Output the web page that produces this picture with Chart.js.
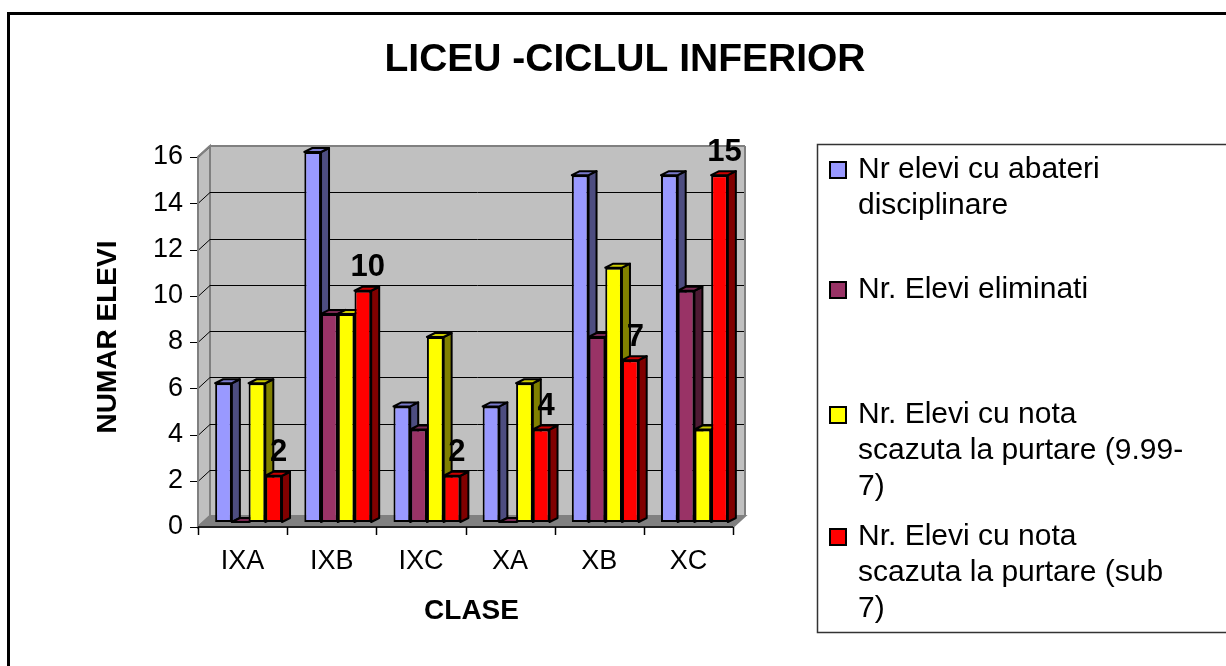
<!DOCTYPE html>
<html>
<head>
<meta charset="utf-8">
<title>Liceu - ciclul inferior</title>
<script src="https://cdn.jsdelivr.net/npm/chart.js@4.4.1/dist/chart.umd.min.js"></script>
<style>
    html, body { margin: 0; padding: 0; background: #fff; }
    canvas { display: block; }
</style>
</head>
<body>
<canvas id="grafic" width="1226" height="666"></canvas>
<script>
const clase = ['IXA', 'IXB', 'IXC', 'XA', 'XB', 'XC'];
const abateri = [6, 16, 5, 5, 15, 15];
const eliminati = [0, 9, 4, 0, 8, 10];
const notaScazuta = [6, 9, 8, 6, 11, 4];
const notaSub7 = [2, 10, 2, 4, 7, 15];
const valoriAxaY = [0, 2, 4, 6, 8, 10, 12, 14, 16];

const serii = [
    'Nr elevi cu abateri disciplinare',
    'Nr. Elevi eliminati',
    'Nr. Elevi cu nota scazuta la purtare (9.99-7)',
    'Nr. Elevi cu nota scazuta la purtare (sub 7)'
];
// textul legendei, pe randuri
const randuriLegenda = [
    ['Nr elevi cu abateri', 'disciplinare'],
    ['Nr. Elevi eliminati'],
    ['Nr. Elevi cu nota', 'scazuta la purtare (9.99-', '7)'],
    ['Nr. Elevi cu nota', 'scazuta la purtare (sub', '7)']
];

const culori = ['#9999ff', '#993366', '#ffff00', '#ff0000'];
const culoriLaterale = ['#4d4d80', '#4d1a33', '#808000', '#800000'];
const culoriSus = ['#7a7acc', '#7a2952', '#cccc00', '#cc0000'];

const FONT = "'Liberation Sans', Arial, sans-serif";
const adancime = { dx: 8, dy: -4 };   // adancimea barelor 3D
const fata = { dx: -6, dy: 5 };        // planul din fata (axe)
const spate = { dx: 6, dy: -6 };       // peretele din spate

function poligon(ctx, pts, fill) {
    ctx.beginPath();
    ctx.moveTo(pts[0][0], pts[0][1]);
    for (let i = 1; i < pts.length; i++) ctx.lineTo(pts[i][0], pts[i][1]);
    ctx.closePath();
    if (fill) {
        ctx.fillStyle = fill;
        ctx.fill();
    }
    ctx.stroke();
}

function linie(ctx, x1, y1, x2, y2) {
    ctx.beginPath();
    ctx.moveTo(x1, y1);
    ctx.lineTo(x2, y2);
    ctx.stroke();
}

const decor3D = {
    id: 'decor3D',
    beforeDraw(chart) {
        const { ctx, chartArea: ca, scales: { y } } = chart;
        const L = ca.left, R = ca.right;
        const B = y.getPixelForValue(0), T = y.getPixelForValue(16);
        ctx.save();
        ctx.fillStyle = '#fff';
        ctx.fillRect(0, 0, chart.width, chart.height);

        // chenarul exterior
        ctx.strokeStyle = '#000';
        ctx.lineWidth = 3;
        ctx.strokeRect(8.5, 13.5, chart.width + 20, chart.height + 20);

        // peretele din spate, peretele lateral si podeaua
        ctx.lineWidth = 2;
        ctx.strokeStyle = '#808080';
        ctx.fillStyle = '#c0c0c0';
        ctx.fillRect(L + spate.dx, T + spate.dy, R - L, B - T);
        poligon(ctx, [[L + fata.dx, T + fata.dy], [L + spate.dx, T + spate.dy],
                      [L + spate.dx, B + spate.dy], [L + fata.dx, B + fata.dy]], '#c0c0c0');
        poligon(ctx, [[L + fata.dx, B + fata.dy], [R + fata.dx, B + fata.dy],
                      [R + spate.dx, B + spate.dy], [L + spate.dx, B + spate.dy]], '#808080');

        // liniile de grila
        ctx.strokeStyle = '#000';
        ctx.lineWidth = 1;
        valoriAxaY.forEach(v => {
            const py = Math.round(y.getPixelForValue(v)) + 0.5;
            if (v > 0 && v < 16) {
                linie(ctx, L + spate.dx, py + spate.dy, R + spate.dx, py + spate.dy);
            }
            if (v > 0) {
                linie(ctx, L + fata.dx, py + fata.dy, L + spate.dx, py + spate.dy);
            }
            linie(ctx, L + fata.dx - 8, py + fata.dy, L + fata.dx, py + fata.dy);
        });

        // marginile peretilor
        ctx.strokeStyle = '#808080';
        ctx.lineWidth = 2;
        linie(ctx, L + fata.dx, T + fata.dy, L + spate.dx, T + spate.dy);
        linie(ctx, L + spate.dx, T + spate.dy, R + spate.dx, T + spate.dy);
        linie(ctx, R + spate.dx, T + spate.dy, R + spate.dx, B + spate.dy);
        linie(ctx, L + fata.dx, T + fata.dy, L + fata.dx, B + fata.dy);

        // axa X din fata, cu gradatii intre clase
        ctx.strokeStyle = '#000';
        ctx.lineWidth = 1.5;
        const yAx = B + fata.dy;
        linie(ctx, L + fata.dx, yAx, R + fata.dx, yAx);
        const pas = (R - L) / clase.length;
        for (let i = 0; i <= clase.length; i++) {
            const px = Math.round(L + i * pas + fata.dx) + 0.5;
            linie(ctx, px, yAx, px, yAx + 8);
        }
        ctx.restore();
    },
    // fetele laterale si de sus ale barelor, de la stanga la dreapta;
    // fetele din fata le deseneaza apoi Chart.js peste ele
    beforeDatasetsDraw(chart) {
        const { ctx } = chart;
        const { dx, dy } = adancime;
        ctx.save();
        ctx.lineWidth = 2;
        ctx.strokeStyle = '#000';
        ctx.lineJoin = 'round';
        clase.forEach((c, k) => {
            for (let i = 0; i < serii.length; i++) {
                const bar = chart.getDatasetMeta(i).data[k];
                const { x, y, base, width } = bar.getProps(['x', 'y', 'base', 'width'], true);
                const l = x - width / 2, r = x + width / 2;
                poligon(ctx, [[r, y], [r + dx, y + dy], [r + dx, base + dy], [r, base]], culoriLaterale[i]);
                poligon(ctx, [[l, y], [l + dx, y + dy], [r + dx, y + dy], [r, y]], culoriSus[i]);
            }
        });
        ctx.restore();
    },
    afterDatasetsDraw(chart) {
        const { ctx } = chart;
        ctx.save();
        ctx.fillStyle = '#000';
        ctx.font = 'bold 31px ' + FONT;
        ctx.textAlign = 'center';
        ctx.textBaseline = 'middle';
        chart.getDatasetMeta(3).data.forEach((bar, k) => {
            ctx.fillText(String(notaSub7[k]), bar.x + 5, bar.y - 23);
        });
        ctx.restore();
    },
    afterDraw(chart) {
        const { ctx } = chart;
        ctx.save();
        // titlul
        ctx.fillStyle = '#000';
        ctx.font = 'bold 39px ' + FONT;
        ctx.textAlign = 'center';
        ctx.textBaseline = 'middle';
        ctx.fillText('LICEU -CICLUL INFERIOR', 625, 60);

        // legenda
        ctx.strokeStyle = '#333';
        ctx.lineWidth = 1.5;
        ctx.strokeRect(817.5, 144.5, 440, 488);
        const sus = [170, 290, 415, 537];
        ctx.font = '30px ' + FONT;
        ctx.textAlign = 'left';
        randuriLegenda.forEach((randuri, i) => {
            ctx.fillStyle = culori[i];
            ctx.fillRect(830, sus[i] - 8, 16, 16);
            ctx.strokeStyle = '#000';
            ctx.lineWidth = 2;
            ctx.strokeRect(830, sus[i] - 8, 16, 16);
            ctx.fillStyle = '#000';
            randuri.forEach((t, j) => ctx.fillText(t, 858, sus[i] + j * 36));
        });
        ctx.restore();
    }
};

new Chart(document.getElementById('grafic'), {
    type: 'bar',
    data: {
        labels: clase,
        datasets: [
            { label: serii[0], data: abateri, backgroundColor: culori[0] },
            { label: serii[1], data: eliminati, backgroundColor: culori[1] },
            { label: serii[2], data: notaScazuta, backgroundColor: culori[2] },
            { label: serii[3], data: notaSub7, backgroundColor: culori[3] }
        ]
    },
    options: {
        responsive: false,
        animation: false,
        layout: { padding: { top: 152, left: 80, right: 487, bottom: 34 } },
        datasets: {
            bar: {
                borderColor: '#000',
                borderWidth: 2,
                borderSkipped: false,
                categoryPercentage: 0.75,
                barPercentage: 1
            }
        },
        plugins: {
            legend: { display: false },
            tooltip: { enabled: false }
        },
        scales: {
            x: {
                grid: { display: false, drawTicks: false },
                border: { display: false },
                ticks: {
                    color: '#000',
                    font: { family: FONT, size: 27 },
                    padding: 23,
                    labelOffset: -6,
                    maxRotation: 0,
                    autoSkip: false
                },
                title: {
                    display: true,
                    text: 'CLASE',
                    color: '#000',
                    font: { family: FONT, size: 28, weight: 'bold' },
                    padding: { top: 4, bottom: 4 }
                },
                afterFit(scale) { scale.height = 110; }
            },
            y: {
                min: 0,
                max: 16,
                grid: { display: false, drawTicks: false },
                border: { display: false },
                ticks: {
                    stepSize: 2,
                    color: '#000',
                    font: { family: FONT, size: 27 },
                    padding: 21,
                    labelOffset: 5
                },
                title: {
                    display: true,
                    text: 'NUMAR ELEVI',
                    color: '#000',
                    font: { family: FONT, size: 28, weight: 'bold' },
                    padding: { top: 11, bottom: 4 }
                },
                afterFit(scale) { scale.width = 124; }
            }
        }
    },
    plugins: [decor3D]
});
</script>
</body>
</html>
